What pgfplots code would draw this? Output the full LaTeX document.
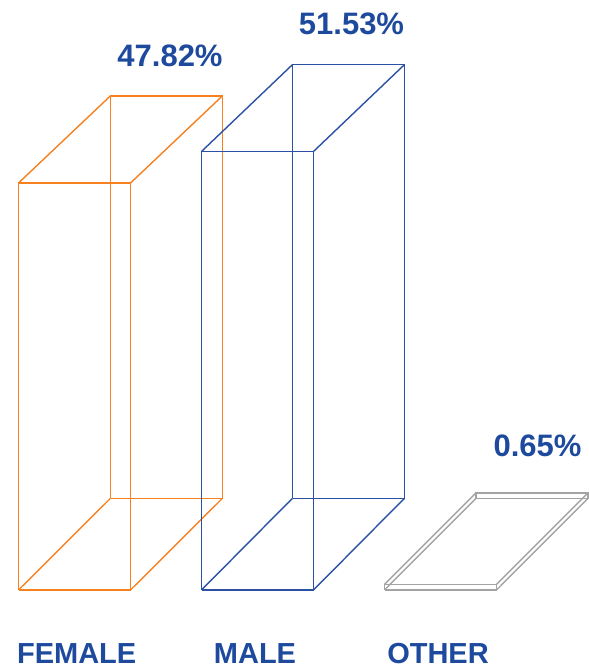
\documentclass[border=0pt]{standalone}
\usepackage{pgfplots}
\pgfplotsset{compat=1.18}
\usepackage{fontspec}
\setmainfont{Liberation Sans}
\definecolor{cfem}{HTML}{F7801F}
\definecolor{cmale}{HTML}{2B51A6}
\definecolor{coth}{HTML}{A3A3A3}
\definecolor{ctxt}{HTML}{1E4A9E}
\begin{document}
\begin{tikzpicture}
\begin{axis}[hide axis, scale only axis, width=589pt, height=670pt,
  xmin=0, xmax=589, ymin=-9.401, ymax=69.33, clip=false,
  unbounded coords=jump,
  every axis plot/.append style={line width=1.4pt, mark=none, line join=miter}]
% FEMALE 47.82
\addplot[cfem] coordinates {(18.5,0)(130.5,0)(130.5,47.82)(18.5,47.82)(18.5,0)};
\addplot[cfem] coordinates {(110.5,10.78)(222.5,10.78)(222.5,58.07)(110.5,58.07)(110.5,10.78)};
\addplot[cfem] coordinates {(18.5,0)(110.5,10.78)(0,nan)(130.5,0)(222.5,10.78)(0,nan)(130.5,47.82)(222.5,58.07)(0,nan)(18.5,47.82)(110.5,58.07)};
% MALE 51.53
\addplot[cmale] coordinates {(201.5,0)(313.5,0)(313.5,51.53)(201.5,51.53)(201.5,0)};
\addplot[cmale] coordinates {(292.5,10.78)(404.5,10.78)(404.5,61.74)(292.5,61.74)(292.5,10.78)};
\addplot[cmale] coordinates {(201.5,0)(292.5,10.78)(0,nan)(313.5,0)(404.5,10.78)(0,nan)(313.5,51.53)(404.5,61.74)(0,nan)(201.5,51.53)(292.5,61.74)};
% OTHER 0.65
\addplot[coth] coordinates {(384.5,0)(496.5,0)(496.5,0.65)(384.5,0.65)(384.5,0)};
\addplot[coth] coordinates {(476,10.78)(588,10.78)(588,11.42)(476,11.42)(476,10.78)};
\addplot[coth] coordinates {(384.5,0)(476,10.78)(0,nan)(496.5,0)(588,10.78)(0,nan)(496.5,0.65)(588,11.42)(0,nan)(384.5,0.65)(476,11.42)};
% value labels
\node[anchor=base, inner sep=0pt, font=\bfseries\fontsize{31}{31}\selectfont, text=ctxt] at (axis cs:170,61.57) {47.82\%};
\node[anchor=base, inner sep=0pt, font=\bfseries\fontsize{31}{31}\selectfont, text=ctxt] at (axis cs:351.5,65.22) {51.53\%};
\node[anchor=base, inner sep=0pt, font=\bfseries\fontsize{31}{31}\selectfont, text=ctxt] at (axis cs:537.5,15.63) {0.65\%};
% category labels
\node[anchor=base, inner sep=0pt, font=\bfseries\fontsize{29}{29}\selectfont, text=ctxt] at (axis cs:76.7,-8.62) {FEMALE};
\node[anchor=base, inner sep=0pt, font=\bfseries\fontsize{29}{29}\selectfont, text=ctxt] at (axis cs:255,-8.62) {MALE};
\node[anchor=base, inner sep=0pt, font=\bfseries\fontsize{29}{29}\selectfont, text=ctxt] at (axis cs:438,-8.62) {OTHER};
\end{axis}
\pgfresetboundingbox
\useasboundingbox (current axis.south west) rectangle (current axis.north east);
\end{tikzpicture}
\end{document}
